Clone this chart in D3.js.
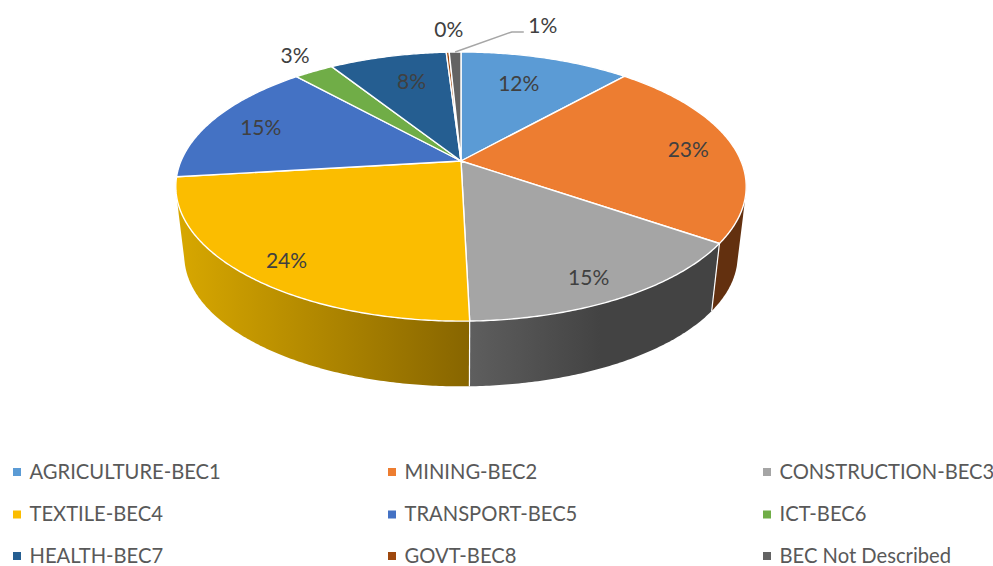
<!DOCTYPE html>
<html>
<head>
<meta charset="utf-8">
<script src="https://cdn.jsdelivr.net/npm/d3@7"></script>
<style>
  body { margin: 0; background: #fff; }
  text { font-family: Lato, sans-serif; }
</style>
</head>
<body>
<svg id="chart"></svg>
<script>
// values, in percent
const categories = [
  "AGRICULTURE-BEC1", "MINING-BEC2", "CONSTRUCTION-BEC3",
  "TEXTILE-BEC4", "TRANSPORT-BEC5", "ICT-BEC6",
  "HEALTH-BEC7", "GOVT-BEC8", "BEC Not Described",
];
const shares = [11.6, 23, 15, 23.5, 15.2, 2.7, 8, 0.2, 0.8];
const colors = [
  "#5b9bd5", "#ed7d31", "#a5a5a5", "#fbbd00", "#4472c4",
  "#70ad47", "#255e91", "#9e480e", "#636363",
];

const width = 993;
const height = 566;

// tilted disc: apex of the pie and perspective of the rim
const apex = { x: 461, y: 161 };
const disc = { a: 280, b: 129.7, k: 0.19 };
const wallDrop = 70; // offset of the lower rim
const wallScale = 0.97; // lower rim is a bit smaller

// data label placement, as disc radius and angle shift (degrees)
const labelRadius = [0.72, 0.83, 0.86, 0.86, 0.8, 1.195, 0.727, 1.263, 1.36];
const labelShift = [-2, 0.7, 1.5, -1.6, -0.6, 1.3, 2, 0.8, 17];
const labelDrop = 2.5; // lato sits a little high with baseline middle

const svg = d3.select("#chart").attr("width", width).attr("height", height);
const defs = svg.append("defs");

const pie = d3.pie().sort(null).value((d) => d);
const slices = pie(shares);

// angle 0 = back of the disc, clockwise
function project(angle, r = 1) {
  const w = 1 + disc.k * r * Math.cos(angle);
  return [
    apex.x + (disc.a * r * Math.sin(angle)) / w,
    apex.y - (disc.b * r * Math.cos(angle)) / w,
  ];
}

function projectLow(angle) {
  const [x, y] = project(angle);
  return [
    apex.x + (x - apex.x) * wallScale,
    apex.y + wallDrop + (y - apex.y) * wallScale,
  ];
}

function rim(start, end, fn) {
  const n = Math.max(2, Math.ceil((end - start) / 0.01));
  return d3.range(n + 1).map((i) => fn(start + ((end - start) * i) / n));
}

const line = d3.line();

// side wall, only the front half can be seen
const wallGradients = [
  { index: 3, x1: 176, x2: 470, stops: ["#d8a800", "#876500"] },
  { index: 2, x1: 470, x2: 600, stops: ["#5e5e5e", "#434343"] },
];
wallGradients.forEach((g) => {
  const grad = defs
    .append("linearGradient")
    .attr("id", `wall-${g.index}`)
    .attr("gradientUnits", "userSpaceOnUse")
    .attr("x1", g.x1)
    .attr("x2", g.x2)
    .attr("y1", 0)
    .attr("y2", 0);
  grad.selectAll("stop")
    .data(g.stops)
    .join("stop")
    .attr("offset", (d, i) => i)
    .attr("stop-color", (d) => d);
});

const wallFill = (i) => {
  if (i === 1) return "#63300f";
  return `url(#wall-${i})`;
};

const wallSlices = slices.filter((d) => d.index >= 1 && d.index <= 3);
const frontStart = Math.PI / 2;
const frontEnd = (Math.PI * 3) / 2;

// hull keeps the straight outer edges at the far left and right
svg.append("g")
  .selectAll("path")
  .data(wallSlices)
  .join("path")
  .attr("d", (d) => {
    const s = Math.max(d.startAngle, frontStart);
    const e = Math.min(d.endAngle, frontEnd);
    return line(d3.polygonHull(rim(s, e, project).concat(rim(s, e, projectLow)))) + "Z";
  })
  .attr("fill", (d) => wallFill(d.index));

// white seams between the wall pieces
svg.append("g")
  .selectAll("line")
  .data(slices.filter((d) => d.index === 1 || d.index === 2))
  .join("line")
  .attr("x1", (d) => project(d.endAngle)[0])
  .attr("y1", (d) => project(d.endAngle)[1])
  .attr("x2", (d) => projectLow(d.endAngle)[0])
  .attr("y2", (d) => projectLow(d.endAngle)[1])
  .attr("stroke", "#fff")
  .attr("stroke-width", 1.2);

// top of the pie
svg.append("g")
  .selectAll("path")
  .data(slices)
  .join("path")
  .attr("d", (d) => line([[apex.x, apex.y]].concat(rim(d.startAngle, d.endAngle, project))) + "Z")
  .attr("fill", (d) => colors[d.index])
  .attr("stroke", "#fff")
  .attr("stroke-width", 1.4)
  .attr("stroke-linejoin", "round");

const labelPos = (d) =>
  project((d.startAngle + d.endAngle) / 2 + (labelShift[d.index] * Math.PI) / 180, labelRadius[d.index]);

// leader line of the last slice
const last = slices[slices.length - 1];
const lastPos = labelPos(last);
const lastMid = project((last.startAngle + last.endAngle) / 2);
svg.append("path")
  .attr("d", line([lastMid, [lastPos[0] - 31, lastPos[1] + 7], [lastPos[0] - 19, lastPos[1] + 7]]))
  .attr("fill", "none")
  .attr("stroke", "#a6a6a6")
  .attr("stroke-width", 1.5);

svg.append("g")
  .selectAll("text")
  .data(slices)
  .join("text")
  .attr("x", (d) => labelPos(d)[0])
  .attr("y", (d) => labelPos(d)[1] + labelDrop)
  .attr("text-anchor", "middle")
  .attr("dominant-baseline", "middle")
  .attr("font-size", 21)
  .attr("fill", "#404040")
  .text((d) => `${Math.round(d.value)}%`);

// legend, three columns
const legendX = d3.scaleOrdinal().domain([0, 1, 2]).range([13, 388, 763]);
const legendY = d3.scaleOrdinal().domain([0, 1, 2]).range([472, 514.5, 556]);

const legend = svg.append("g")
  .selectAll("g")
  .data(categories)
  .join("g")
  .attr("transform", (d, i) => `translate(${legendX(i % 3)},${legendY(Math.floor(i / 3))})`);

legend.append("rect")
  .attr("x", 0)
  .attr("y", -4)
  .attr("width", 8)
  .attr("height", 8)
  .attr("fill", (d, i) => colors[i]);

legend.append("text")
  .attr("x", 16.5)
  .attr("y", 1.5)
  .attr("dominant-baseline", "middle")
  .attr("font-size", 20.2)
  .attr("fill", "#595959")
  .text((d) => d);
</script>
</body>
</html>
